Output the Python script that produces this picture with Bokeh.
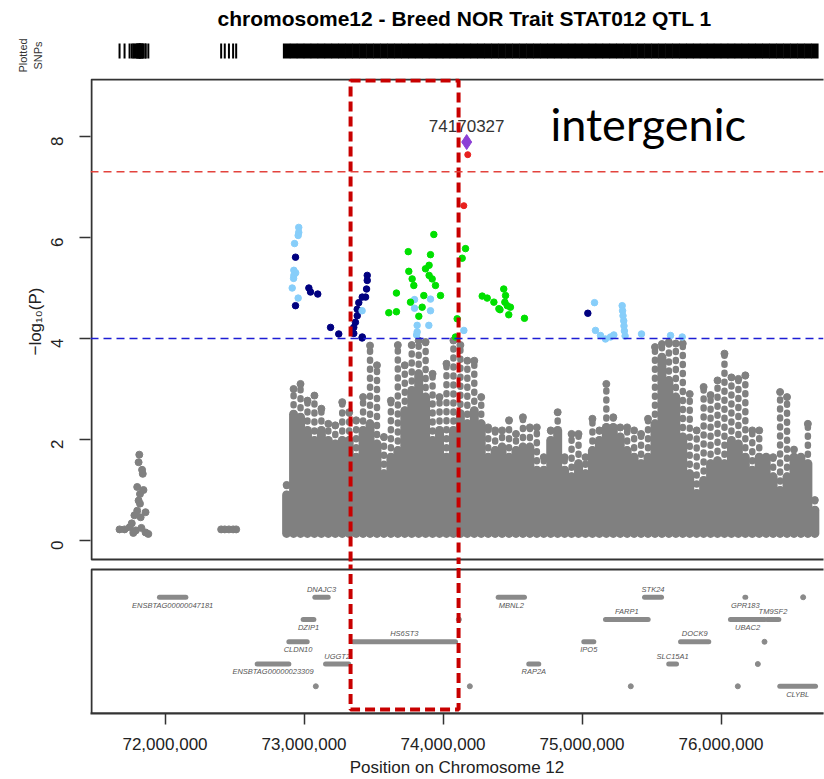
import math
from bokeh.plotting import figure
from bokeh.layouts import column
from bokeh.models import Range1d, FixedTicker, NumeralTickFormatter, Span, Title
from bokeh.embed import file_html
from bokeh.resources import INLINE
from bokeh.core.properties import value

# ---------------- data (positions in Mb, values in -log10 P) ----------------
title_text = "chromosome12 - Breed NOR Trait STAT012 QTL 1"
x_ticks_mb = [72, 73, 74, 75, 76]
y_ticks = [0, 2, 4, 6, 8]
sig_line = 7.3
sugg_line = 4.0

# isolated grey SNP groups
grey_pos = [71.673, 71.709, 71.745, 71.761, 71.772, 71.780, 71.790, 71.800, 71.800, 71.810,
            71.810, 71.815, 71.820, 71.820, 71.825, 71.830, 71.835, 71.840, 71.845, 71.860,
            71.860, 71.880, 72.404, 72.430, 72.460, 72.490, 72.512]
grey_val = [0.22, 0.22, 0.26, 0.34, 0.15, 0.50, 0.20, 0.59, 1.06, 0.79,
            1.55, 1.70, 0.92, 0.73, 0.46, 0.25, 1.40, 1.32, 1.00, 0.56,
            0.16, 0.13, 0.22, 0.22, 0.22, 0.22, 0.22]

# dense grey cloud: per-position dense top and highest sparse SNP
cloud_pos = [72.875, 72.925, 72.975, 73.025, 73.075, 73.125, 73.175, 73.225, 73.275, 73.325,
             73.375, 73.425, 73.475, 73.525, 73.575, 73.625, 73.675, 73.725, 73.775, 73.825,
             73.875, 73.925, 73.975, 74.025, 74.075, 74.125, 74.175, 74.225, 74.275, 74.325,
             74.375, 74.425, 74.475, 74.525, 74.575, 74.625, 74.675, 74.725, 74.775, 74.825,
             74.875, 74.925, 74.975, 75.025, 75.075, 75.125, 75.175, 75.225, 75.275, 75.325,
             75.375, 75.425, 75.475, 75.525, 75.575, 75.625, 75.675, 75.725, 75.775, 75.825,
             75.875, 75.925, 75.975, 76.025, 76.075, 76.125, 76.175, 76.225, 76.275, 76.325,
             76.375, 76.425, 76.475, 76.525, 76.575, 76.625, 76.675]
cloud_dense = [0.9, 2.5, 2.44, 2.18, 1.98, 2.18, 1.98, 1.91, 1.98, 1.98,
               1.65, 2.18, 2.31, 1.91, 1.32, 1.65, 1.78, 2.57, 2.97, 3.3,
               2.84, 1.98, 2.18, 1.65, 2.18, 2.51, 2.31, 2.57, 2.31, 1.65,
               1.78, 1.85, 1.65, 1.78, 1.85, 1.85, 1.39, 1.39, 1.98, 2.18,
               1.39, 1.26, 1.52, 1.32, 1.78, 1.98, 2.24, 2.24, 2.05, 1.78,
               1.65, 1.52, 1.65, 2.31, 3.63, 3.17, 2.84, 2.05, 1.32, 0.93,
               1.19, 1.52, 1.58, 1.52, 1.98, 1.91, 1.65, 1.39, 1.65, 1.65,
               1.26, 0.99, 1.26, 1.65, 1.65, 1.52, 0.6]
cloud_peak = [1.1, 3.0, 3.1, 2.77, 2.87, 2.61, 2.31, 2.28, 2.74, 2.54,
              2.38, 2.84, 3.86, 3.47, 2.05, 2.77, 3.87, 3.47, 3.87, 3.96,
              3.93, 3.3, 2.84, 3.5, 3.96, 3.87, 3.56, 3.56, 2.84, 2.24,
              2.18, 2.18, 2.38, 2.11, 2.44, 2.24, 2.24, 1.65, 2.18, 2.54,
              1.65, 2.11, 2.11, 1.65, 2.41, 2.18, 3.1, 2.44, 2.24, 2.24,
              2.18, 2.11, 2.41, 3.83, 3.89, 3.93, 3.90, 3.90, 2.9, 2.18,
              3.04, 2.88, 3.17, 3.70, 3.23, 3.2, 3.27, 2.18, 2.18, 1.65,
              1.65, 2.94, 2.84, 1.8, 1.65, 2.31, 0.8]

navy_pos = [72.939, 72.939, 73.035, 73.047, 73.099, 73.191, 73.250, 73.358, 73.358, 73.370,
            73.383, 73.383, 73.394, 73.419, 73.443, 73.450, 73.455, 73.455, 73.419, 73.418, 75.042]
navy_val = [5.61, 4.65, 5.00, 4.92, 4.88, 4.22, 4.09, 4.22, 4.10, 4.32,
            4.45, 4.58, 4.71, 4.82, 4.82, 4.98, 5.15, 5.25, 4.03, 4.01, 4.50]

sky_pos = [72.962, 72.962, 72.958, 72.932, 72.940, 72.927, 72.927, 72.925, 72.915, 72.958,
           73.418, 73.795, 73.795, 73.814, 73.814, 73.810, 73.898, 73.910, 73.910, 74.150,
           75.090, 75.097, 75.133, 75.169, 75.205, 75.229, 75.289, 75.292, 75.295, 75.300,
           75.302, 75.305, 75.310, 75.428, 75.637, 75.721]
sky_val = [6.20, 6.10, 6.04, 5.88, 5.30, 5.35, 5.25, 5.19, 5.00, 4.80,
           4.55, 4.77, 4.60, 4.26, 4.13, 4.07, 4.26, 4.55, 4.78, 4.16,
           4.71, 4.16, 4.06, 3.99, 4.03, 4.07, 4.65, 4.55, 4.45, 4.35,
           4.25, 4.15, 4.05, 4.09, 4.06, 4.03]

green_pos = [73.934, 73.750, 73.910, 74.162, 74.138, 73.900, 73.900, 73.754, 73.778, 73.790,
             73.874, 73.922, 73.946, 73.982, 73.862, 73.665, 73.610, 73.665, 73.766, 73.850,
             73.826, 74.102, 74.090, 74.282, 74.318, 74.366, 74.402, 74.410, 74.437, 74.450,
             74.462, 74.473, 74.586, 74.445, 74.485]
green_val = [6.06, 5.72, 5.66, 5.78, 5.59, 5.45, 5.25, 5.33, 5.18, 5.05,
             5.38, 5.18, 5.05, 4.85, 4.85, 4.90, 4.51, 4.53, 4.72, 4.62,
             4.44, 4.39, 4.03, 4.84, 4.80, 4.72, 4.59, 4.57, 4.98, 4.85,
             4.65, 4.47, 4.40, 4.72, 4.62]

red_pos = [74.178, 74.150]
red_val = [7.64, 6.63]

lead_snp = 74170327
lead_val = 7.89
annotation_text = "intergenic"
highlight_mb = [73.335, 74.112]

gene_names = ["ENSBTAG00000047181", "DNAJC3", "DZIP1", "CLDN10", "HS6ST3", "ENSBTAG00000023309",
              "UGGT2", "MBNL2", "STK24", "GPR183", "FARP1", "UBAC2", "TM9SF2", "IPO5", "DOCK9",
              "RAP2A", "SLC15A1", "CLYBL"]
gene_start = [71.960, 73.078, 72.994, 72.891, 73.354, 72.663, 73.155, 74.397, 75.450, 76.172,
              75.169, 76.068, 76.332, 75.013, 75.709, 74.617, 75.624, 76.423]
gene_end = [72.150, 73.174, 73.071, 73.023, 74.090, 72.891, 73.322, 74.586, 75.572, 76.178,
            75.476, 76.315, 76.416, 75.085, 75.912, 74.689, 75.680, 76.680]
gene_row = [1, 1, 2, 3, 3, 4, 4, 1, 1, 1, 2, 2, 2, 3, 3, 4, 4, 5]
gene_label_side = ["below", "above", "below", "below", "above", "below", "above", "below", "above",
                   "below", "above", "below", "above", "below", "above", "below", "above", "below"]
small_gene_pos = [73.085, 74.114, 74.193, 75.351, 76.121, 76.265, 76.313, 76.591]
small_gene_row = [5, 2, 5, 5, 5, 4, 3, 1]

# ---------------- layout ----------------
W, H = 824, 779
BL, BR = 90, 1
TITLE_H = 32        # title band
TOP_H = 78          # title + SNP strip
SPLIT = 564         # boundary between main panel figure and gene figure
BB = 65
PX_PER_MB = 139.0
X0 = 71.464
X1 = X0 + (W - BL - BR) / PX_PER_MB
Y0PX, PX_PER_UNIT = 540.0, 50.5
MB = 1e6


def vy(py):
    return (Y0PX - py) / PX_PER_UNIT


def vx(px):
    return X0 + (px - BL) / PX_PER_MB


def bp(lst):
    return [v * MB for v in lst]


ROW1_PX, ROW_STEP_PX = 597.0, 22.4


def row_y(r):
    return vy(ROW1_PX + (r - 1) * ROW_STEP_PX)


FONT = "Liberation Sans"
FRAME = "#333333"
GREY = "#808080"
RED_BOX = "#c80000"


def base_fig(**kw):
    f = figure(output_backend="svg", toolbar_location=None, **kw)
    f.outline_line_color = None
    f.grid.visible = False
    f.background_fill_color = "white"
    f.border_fill_color = "white"
    return f


def side_title(text, standoff):
    return Title(text=text, text_font=FONT, text_font_style="normal", text_font_size="11px",
                 text_color="#333333", align="center", standoff=standoff)


# ---- top strip: title, plotted SNP rug ----
top = base_fig(width=W, height=TOP_H, x_range=Range1d(X0 * MB, X1 * MB),
               y_range=Range1d(vy(TOP_H), vy(TITLE_H)), x_axis_location=None, y_axis_location=None,
               min_border_left=BL, min_border_right=BR, min_border_top=TITLE_H, min_border_bottom=0)
top.title = Title(text=title_text, text_font=FONT, text_font_style="bold", text_font_size="21px",
                  text_color="black", align="left", offset=127, standoff=5)
top.add_layout(side_title(" ", 32), "left")      # spacer next to the frame
top.add_layout(side_title("SNPs", 1), "left")
top.add_layout(side_title("Plotted", 2), "left")
rug_top, rug_bot = vy(43), vy(58)
top.segment(x0=bp(grey_pos), x1=bp(grey_pos), y0=[rug_bot] * len(grey_pos), y1=[rug_top] * len(grey_pos),
            line_color="black", line_width=2)
top.segment(x0=bp(cloud_pos), x1=bp(cloud_pos), y0=[rug_bot] * len(cloud_pos), y1=[rug_top] * len(cloud_pos),
            line_color="black", line_width=7.5)

# ---- main association panel ----
p = base_fig(width=W, height=SPLIT - TOP_H, x_range=top.x_range,
             y_range=Range1d(vy(SPLIT), vy(TOP_H)), x_axis_location=None,
             min_border_left=BL, min_border_right=BR, min_border_top=0, min_border_bottom=0)
ya = p.yaxis[0]
ya.ticker = FixedTicker(ticks=y_ticks)
ya.axis_line_color = None
ya.major_tick_out = 11
ya.major_tick_in = 0
ya.major_tick_line_color = FRAME
ya.major_tick_line_width = 1.5
ya.minor_tick_line_color = None
ya.major_label_orientation = math.pi / 2
ya.major_label_text_font = FONT
ya.major_label_text_font_size = "17px"
ya.major_label_text_color = "#222222"
ya.major_label_standoff = 23
ya.axis_label = "\u2212log\u2081\u2080(P)"
ya.axis_label_text_font = FONT
ya.axis_label_text_font_style = "normal"
ya.axis_label_text_font_size = "17px"
ya.axis_label_text_color = "#222222"
ya.axis_label_standoff = -3

p.quad(left=[vx(BL + 1) * MB], right=[(X1 + 0.2) * MB], top=[vy(TOP_H + 1)], bottom=[vy(559)],
       fill_color=None, line_color=FRAME, line_width=2)
p.add_layout(Span(location=sig_line, dimension="width", line_color="#e3433d", line_width=1.5, line_dash="8 5"))
p.add_layout(Span(location=sugg_line, dimension="width", line_color="#1d1dd4", line_width=1.5, line_dash="8 5"))

base = 0.14
p.segment(x0=bp(cloud_pos), x1=bp(cloud_pos), y0=cloud_dense, y1=cloud_peak,
          line_color=GREY, line_width=6.5, line_cap="round", line_dash="1 8")
p.segment(x0=bp(cloud_pos), x1=bp(cloud_pos), y0=[base] * len(cloud_pos), y1=cloud_dense,
          line_color=GREY, line_width=9, line_cap="round")
p.scatter(bp(cloud_pos), cloud_peak, size=7, color=GREY)
p.scatter(bp(grey_pos), grey_val, size=7, color=GREY)

p.scatter(bp(navy_pos), navy_val, size=6.5, color="#000080")
p.scatter(bp(sky_pos), sky_val, size=6.5, color="#87cefa")
p.scatter(bp(green_pos), green_val, size=6.5, color="#00e000")
p.scatter(bp(red_pos), red_val, size=6, color="#e8201e")
p.scatter([lead_snp], [lead_val], marker="diamond", size=15, color="#8c3fd6")
lead_px = Y0PX - lead_val * PX_PER_UNIT
p.text(x=[lead_snp], y=[vy(lead_px - 16)], text=[str(lead_snp)], text_font=value(FONT),
       text_font_size="17px", text_color="#333333", text_align="center", text_baseline="middle")
p.text(x=[vx(550) * MB], y=[vy(123)], text=[annotation_text], text_font=value("Lato"),
       text_font_size="45px", text_color="black", text_align="left", text_baseline="middle")

p.quad(left=[highlight_mb[0] * MB], right=[highlight_mb[1] * MB], top=[vy(80)], bottom=[vy(640)],
       fill_color=None, line_color=RED_BOX, line_width=4, line_dash="10 5")

# ---- gene panel ----
g = base_fig(width=W, height=H - SPLIT, x_range=top.x_range, y_range=Range1d(vy(H - BB), vy(SPLIT)),
             y_axis_location=None,
             min_border_left=BL, min_border_right=BR, min_border_top=0, min_border_bottom=BB)
xa = g.xaxis[0]
xa.ticker = FixedTicker(ticks=bp(x_ticks_mb))
xa.formatter = NumeralTickFormatter(format="0,0")
xa.axis_line_color = FRAME
xa.axis_line_width = 2
xa.major_tick_out = 11
xa.major_tick_in = 0
xa.major_tick_line_color = FRAME
xa.major_tick_line_width = 1.5
xa.minor_tick_line_color = None
xa.major_label_text_font = FONT
xa.major_label_text_font_size = "17px"
xa.major_label_text_color = "#222222"
xa.major_label_standoff = 13
xa.axis_label = "Position on Chromosome 12"
xa.axis_label_text_font = FONT
xa.axis_label_text_font_style = "normal"
xa.axis_label_text_font_size = "17px"
xa.axis_label_text_color = "#222222"
xa.axis_label_standoff = 5

g.quad(left=[vx(BL + 1) * MB], right=[(X1 + 0.2) * MB], top=[vy(569)], bottom=[vy(H - BB)],
       fill_color=None, line_color=FRAME, line_width=2)
gy = [row_y(r) for r in gene_row]
g.segment(x0=bp(gene_start), x1=bp(gene_end), y0=gy, y1=gy, line_color="#8a8a8a",
          line_width=5, line_cap="round")
g.scatter(bp(small_gene_pos), [row_y(r) for r in small_gene_row], size=5, color="#8a8a8a")
off = 8.0 / PX_PER_UNIT
lab_x = [(a + b) / 2 * MB for a, b in zip(gene_start, gene_end)]
lab_y = [y - off if s == "below" else y + off for y, s in zip(gy, gene_label_side)]
g.text(x=lab_x, y=lab_y, text=gene_names, text_font=value(FONT), text_font_style="italic",
       text_font_size="7.5px", text_color="#555555", text_align="center", text_baseline="middle")
g.quad(left=[highlight_mb[0] * MB], right=[highlight_mb[1] * MB], top=[vy(480)], bottom=[vy(710)],
       fill_color=None, line_color=RED_BOX, line_width=4, line_dash="10 5")

layout = column(top, p, g, spacing=0)
open("out.html", "w").write(file_html(layout, INLINE))
